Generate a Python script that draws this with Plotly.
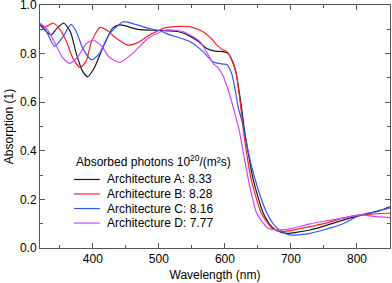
import plotly.graph_objects as go

# Architecture A (black)
wl_a = [320, 328, 337, 346, 356, 366, 375, 384, 392, 402, 416, 430, 441, 468, 500, 530, 547, 560, 572, 585,
        597, 605, 612, 617, 625, 629.5, 632, 643, 658, 670, 680, 694, 710, 729, 750, 779, 800, 820, 835, 850]
abs_a = [0.918, 0.895, 0.877, 0.905, 0.925, 0.89, 0.80, 0.73, 0.705, 0.74, 0.83, 0.905, 0.918, 0.90, 0.895, 0.89,
         0.872, 0.85, 0.822, 0.81, 0.808, 0.80, 0.765, 0.72, 0.58, 0.486, 0.444, 0.28, 0.144, 0.09, 0.07, 0.06,
         0.065, 0.074, 0.09, 0.115, 0.13, 0.144, 0.155, 0.17]

# Architecture B (red)
wl_b = [320, 328, 340, 350, 360, 370, 381, 390, 398, 411, 422, 432, 453, 468, 485, 512, 530, 547, 567, 580,
        588, 597, 603, 610, 617, 624, 628, 630, 640, 655, 671, 684, 700, 729, 750, 779, 805, 825, 850]
abs_b = [0.92, 0.91, 0.925, 0.90, 0.85, 0.78, 0.742, 0.77, 0.85, 0.908, 0.895, 0.87, 0.835, 0.845, 0.875, 0.908,
         0.912, 0.911, 0.89, 0.86, 0.835, 0.815, 0.808, 0.775, 0.72, 0.58, 0.486, 0.444, 0.28, 0.144, 0.082,
         0.067, 0.072, 0.088, 0.10, 0.123, 0.136, 0.14, 0.144]

# Architecture C (blue)
wl_c = [320, 330, 342, 355, 367, 375, 385, 398, 410, 425, 446, 465, 484, 500, 517, 547, 567, 582, 597, 603,
        610, 615, 620, 625, 630, 635, 646, 663.5, 676, 688, 699, 715, 729, 750, 779, 805, 830, 850]
abs_c = [0.925, 0.89, 0.83, 0.87, 0.92, 0.89, 0.82, 0.774, 0.80, 0.88, 0.931, 0.92, 0.904, 0.895, 0.877, 0.85,
         0.808, 0.766, 0.757, 0.755, 0.72, 0.66, 0.58, 0.53, 0.47, 0.40, 0.28, 0.144, 0.09, 0.065, 0.053, 0.055,
         0.06, 0.075, 0.10, 0.136, 0.15, 0.165]

# Architecture D (magenta)
wl_d = [320, 332, 345, 355, 365, 378, 390, 400, 412, 425, 441, 460, 484, 511, 537, 562, 575, 582, 590, 597,
        605, 612.5, 621.5, 635.6, 648, 665, 681, 700, 729, 750, 779, 805, 825, 850]
abs_d = [0.925, 0.897, 0.83, 0.78, 0.76, 0.79, 0.84, 0.856, 0.835, 0.785, 0.764, 0.80, 0.863, 0.897, 0.89, 0.85,
         0.794, 0.76, 0.74, 0.71, 0.65, 0.58, 0.486, 0.28, 0.144, 0.082, 0.074, 0.08, 0.099, 0.11, 0.123, 0.136,
         0.13, 0.125]

names = ["Architecture A: 8.33", "Architecture B: 8.28", "Architecture C: 8.16", "Architecture D: 7.77"]
legend_title = "Absorbed photons 10<sup>20</sup>/(m²s)"
colors = ["#1a1a1a", "#ff2020", "#3355ff", "#cc44ff"]
series = [(wl_a, abs_a), (wl_b, abs_b), (wl_c, abs_c), (wl_d, abs_d)]

FONT = "Liberation Sans, Arial, sans-serif"

fig = go.Figure()
for (x, y), n, c in zip(series, names, colors):
    fig.add_trace(go.Scatter(x=x, y=y, mode="lines", name=n, showlegend=False,
                             line=dict(color=c, width=1.2, shape="spline", smoothing=0.6)))

# manual legend (compact line spacing like the reference)
leg_x0, leg_x1, leg_text_x = 0.097, 0.171, 0.186
title_y = 0.357
item_y0, item_dy = 0.282, 0.0598
fig.add_annotation(xref="paper", yref="paper", x=0.098, y=title_y, xanchor="left", yanchor="middle",
                   text=legend_title, showarrow=False, font=dict(family=FONT, size=12, color="black"))
for i, (n, c) in enumerate(zip(names, colors)):
    yy = item_y0 - i * item_dy
    fig.add_shape(type="line", xref="paper", yref="paper", x0=leg_x0, x1=leg_x1, y0=yy, y1=yy,
                  line=dict(color=c, width=1.2))
    fig.add_annotation(xref="paper", yref="paper", x=leg_text_x, y=yy, xanchor="left", yanchor="middle",
                       text=n, showarrow=False, font=dict(family=FONT, size=12, color="black"))

axis_common = dict(showline=True, linecolor="#555555", linewidth=1, mirror="allticks",
                   ticks="inside", ticklen=5, tickcolor="#555555", showgrid=False, zeroline=False,
                   automargin=False, ticklabeloverflow="allow",
                   tickfont=dict(family=FONT, size=12, color="black"))

fig.update_xaxes(range=[320, 850], tickvals=[400, 500, 600, 700, 800],
                 minor=dict(dtick=50, tick0=0, ticks="inside", ticklen=3, tickcolor="#555555"),
                 title=dict(text="Wavelength (nm)", font=dict(family=FONT, size=12, color="black"), standoff=5),
                 **axis_common)
fig.update_yaxes(range=[0, 1.0], tickvals=[0, 0.2, 0.4, 0.6, 0.8, 1.0], tickformat=".1f",
                 minor=dict(dtick=0.1, tick0=0, ticks="inside", ticklen=3, tickcolor="#555555"),
                 title=dict(text="Absorption (1)", font=dict(family=FONT, size=12, color="black"), standoff=3),
                 **axis_common)

fig.update_layout(
    width=392, height=283,
    margin=dict(l=40, r=2, t=5, b=35),
    paper_bgcolor="white", plot_bgcolor="white",
    showlegend=False,
)

fig.write_html("out.html", config={"displayModeBar": False},
               post_script="document.body.style.margin='0px';document.body.style.padding='0px';")
